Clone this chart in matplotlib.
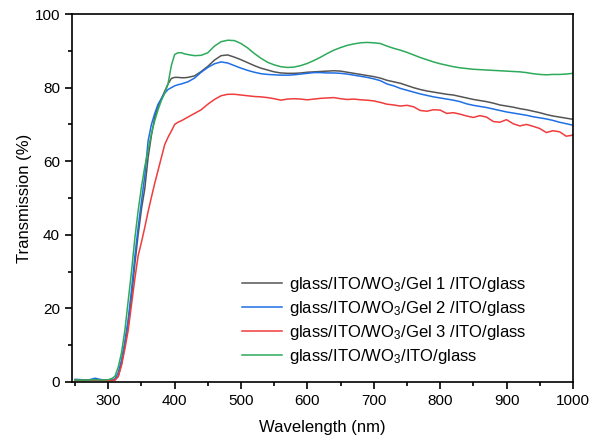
import matplotlib
matplotlib.use("Agg")
import matplotlib.pyplot as plt
from matplotlib.ticker import MultipleLocator

plt.rcParams['font.family'] = ['Liberation Sans', 'DejaVu Sans']
plt.rcParams['mathtext.fontset'] = 'custom'
plt.rcParams['mathtext.rm'] = 'Liberation Sans'
plt.rcParams['mathtext.it'] = 'Liberation Sans:italic'

wl = [250, 260, 270, 280, 290, 300,
      305, 310, 315, 320, 325, 330, 335, 340, 345, 350, 355, 360, 365, 370,
      375, 380, 385, 390, 395, 400, 405, 410, 415, 420,
      430, 440, 450, 460, 470, 480, 490, 500, 510, 520, 530, 540, 550, 560,
      570, 580, 590, 600, 610, 620, 630, 640, 650, 660, 670, 680, 690, 700,
      710, 720, 730, 740, 750, 760, 770, 780, 790, 800, 810, 820, 830, 840,
      850, 860, 870, 880, 890, 900, 910, 920, 930, 940, 950, 960, 970, 980,
      990, 1000]

gel1 = [0.4, 0.4, 0.4, 0.5, 0.4, 0.4,
        0.4, 0.5, 1.5, 5.0, 10.0, 16.0, 23.0, 32.0, 40.0, 47.0, 52.5, 61.0, 67.0, 72.0,
        75.0, 77.0, 79.0, 81.0, 82.5, 82.8, 82.8, 82.7, 82.7, 82.8,
        83.2, 84.4, 85.8, 87.5, 88.7, 88.9, 88.3, 87.6, 86.8, 86.0, 85.3, 84.8, 84.3, 84.0,
        83.9, 83.9, 84.0, 84.2, 84.3, 84.4, 84.5, 84.6, 84.5, 84.2, 83.9, 83.6, 83.3, 83.0,
        82.6, 82.0, 81.6, 81.2, 80.6, 80.0, 79.5, 79.1, 78.8, 78.5, 78.2, 78.0, 77.6, 77.2,
        76.8, 76.5, 76.2, 75.8, 75.3, 75.0, 74.7, 74.3, 74.0, 73.6, 73.2, 72.7, 72.3, 72.0,
        71.7, 71.4]

gel2 = [0.7, 0.6, 0.5, 1.0, 0.6, 0.5,
        0.6, 0.8, 2.5, 6.0, 11.0, 17.0, 25.0, 34.0, 42.0, 49.0, 56.0, 65.5, 70.0, 73.0,
        75.5, 77.0, 78.5, 79.5, 80.0, 80.5, 80.8, 81.0, 81.3, 81.6,
        82.6, 84.2, 85.5, 86.5, 87.0, 86.7, 86.0, 85.3, 84.7, 84.2, 83.8, 83.6, 83.5, 83.4,
        83.4, 83.5, 83.7, 83.9, 84.1, 84.1, 84.0, 84.0, 83.9, 83.7, 83.4, 83.1, 82.8, 82.4,
        81.9, 81.0, 80.5, 79.8, 79.3, 78.8, 78.3, 77.9, 77.5, 77.2, 76.9, 76.6, 76.2, 75.6,
        75.2, 74.9, 74.6, 74.2, 73.8, 73.4, 73.1, 72.8, 72.5, 72.1, 71.8, 71.5, 71.1, 70.6,
        70.2, 69.8]

gel3 = [0.4, 0.4, 0.4, 0.5, 0.4, 0.4,
        0.4, 0.5, 1.5, 4.5, 9.0, 14.0, 21.0, 28.0, 34.3, 38.0, 42.0, 46.3, 50.2, 54.0,
        57.5, 61.0, 64.5, 66.5, 68.2, 70.0, 70.6, 71.0, 71.5, 72.0,
        73.0, 74.0, 75.5, 76.8, 77.8, 78.2, 78.2, 78.0, 77.8, 77.6, 77.5, 77.3, 77.0, 76.6,
        76.9, 77.0, 76.9, 76.7, 76.9, 77.1, 77.2, 77.3, 77.0, 76.8, 76.9, 76.7, 76.6, 76.4,
        76.0, 75.5, 75.3, 75.0, 75.2, 74.8, 73.8, 73.6, 74.0, 73.9, 73.0, 73.2, 72.8, 72.3,
        71.9, 72.4, 72.0, 70.8, 70.6, 71.3, 70.2, 69.6, 70.0, 69.5, 68.9, 67.8, 68.3, 68.0,
        66.8, 67.1]

nogel = [0.5, 0.5, 0.5, 0.6, 0.5, 0.6,
         0.9, 1.5, 4.0, 8.0, 14.0, 22.0, 30.0, 39.0, 46.5, 53.0, 58.5, 63.0, 67.5, 71.0,
         74.0, 76.5, 78.5, 81.0, 86.0, 89.0, 89.5, 89.5, 89.2, 89.0,
         88.7, 88.8, 89.5, 91.3, 92.5, 92.9, 92.8, 92.0, 90.8, 89.3, 88.0, 86.9, 86.2, 85.7,
         85.5, 85.6, 86.0, 86.6, 87.4, 88.3, 89.3, 90.2, 90.9, 91.5, 91.9, 92.2, 92.3, 92.2,
         92.0, 91.3, 90.7, 90.2, 89.6, 88.9, 88.2, 87.6, 87.0, 86.5, 86.1, 85.7, 85.4, 85.2,
         85.0, 84.9, 84.8, 84.7, 84.6, 84.5, 84.4, 84.3, 84.1, 83.8, 83.6, 83.5, 83.6, 83.6,
         83.7, 83.9]

labels = [r'glass/ITO/WO$_3$/Gel 1 /ITO/glass',
          r'glass/ITO/WO$_3$/Gel 2 /ITO/glass',
          r'glass/ITO/WO$_3$/Gel 3 /ITO/glass',
          r'glass/ITO/WO$_3$/ITO/glass']
colors = ['#555555', '#1f6fe5', '#f03c3c', '#2daa5a']

fig = plt.figure(figsize=(5.98, 4.41), dpi=100)
ax = fig.add_axes([0.120, 0.134, 0.838, 0.834])

for y, lab, c in zip([gel1, gel2, gel3, nogel], labels, colors):
    ax.plot(wl, y, color=c, lw=1.1, label=lab)

ax.set_xlim(245, 1000)
ax.set_ylim(0, 100)
ax.xaxis.set_major_locator(MultipleLocator(100))
ax.xaxis.set_minor_locator(MultipleLocator(50))
ax.yaxis.set_major_locator(MultipleLocator(20))
ax.yaxis.set_minor_locator(MultipleLocator(10))
ax.tick_params(which='both', direction='out', labelsize=11, width=1.2, top=False, right=False)
ax.tick_params(which='major', length=5)
ax.tick_params(which='minor', length=3)
for s in ax.spines.values():
    s.set_linewidth(1.2)

ax.set_xlabel('Wavelength (nm)', fontsize=12, labelpad=9)
ax.set_ylabel('Transmission (%)', fontsize=12, labelpad=2)

leg = ax.legend(loc='lower right', bbox_to_anchor=(0.937, 0.002), frameon=False,
                fontsize=12, handlelength=2.4, handletextpad=0.4, labelspacing=0.31)

fig.savefig('out.png', dpi=100)
